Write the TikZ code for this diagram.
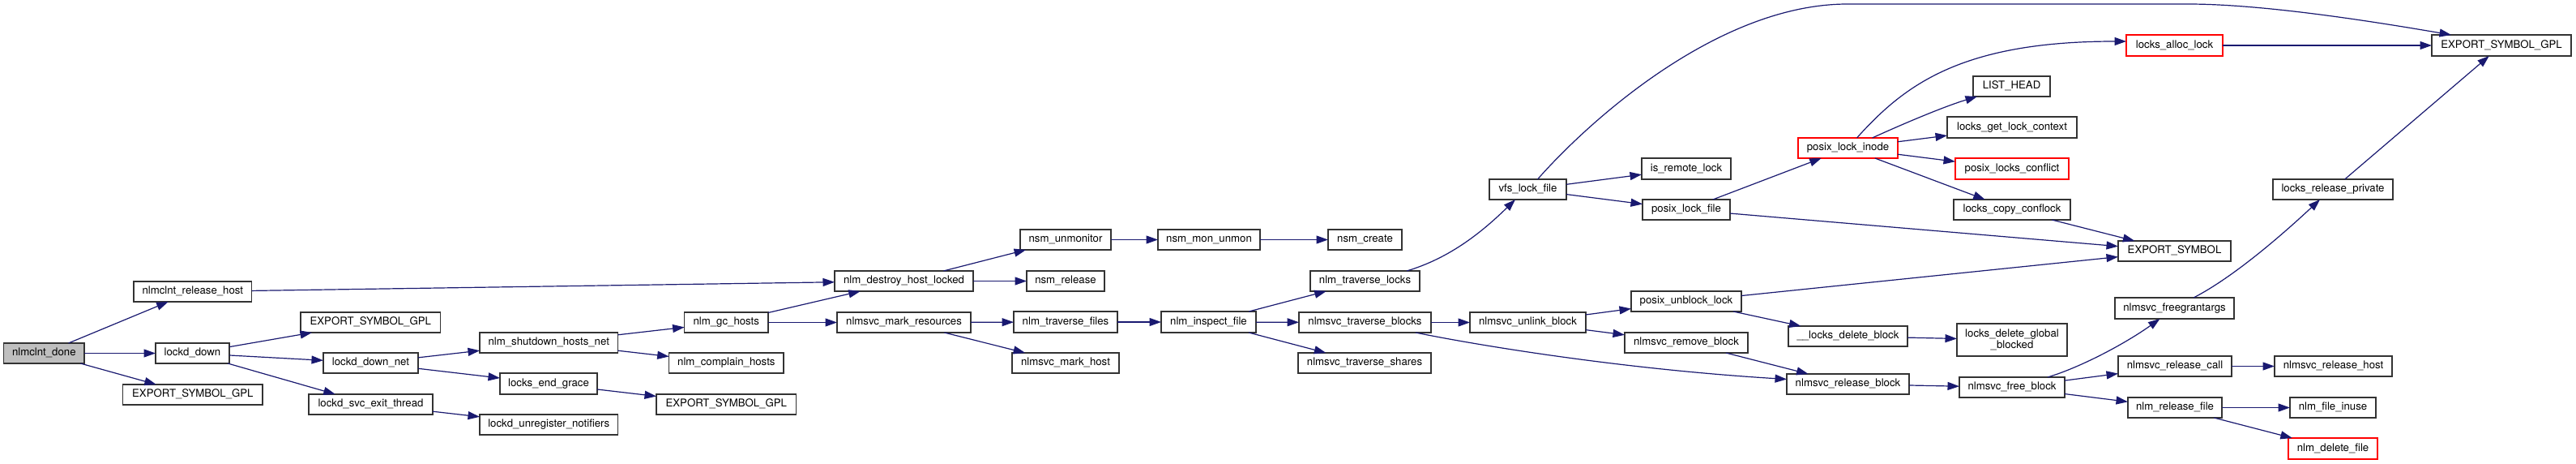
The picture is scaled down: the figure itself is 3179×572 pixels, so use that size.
\documentclass[tikz,border=0pt]{standalone}
\usepackage{fontspec}
\setmainfont{TeX Gyre Heros}
\usetikzlibrary{arrows.meta,calc}
\definecolor{edgec}{HTML}{191970}
\definecolor{bordc}{HTML}{333333}
\definecolor{rootc}{HTML}{BFBFBF}
\tikzset{
  box/.style={draw=bordc,line width=1.3pt,fill=white,inner sep=0pt,outer sep=0pt,
    font=\fontsize{13.2}{14}\selectfont},
  oneline/.style={text height=9.6pt,text depth=2.9pt},
  redbox/.style={draw=red},
  rootbox/.style={fill=rootc},
  edge/.style={draw=edgec,line width=1.2pt,-{Triangle[length=14.5pt,width=10pt]}}
}
\newcommand{\gnode}[7][oneline]{\node[box,#1,minimum width={(#4-#3)*1pt},minimum height={(#6-#5)*1pt}] (#2) at ({(#3+#4)/2},{(#5+#6)/2}) {#7};}
\begin{document}
\begin{tikzpicture}[x=1pt,y=-1pt]
\fill[white] (0,0) rectangle (3179,572);
\useasboundingbox (0,0) rectangle (3179,572);
% nodes
\gnode[oneline,rootbox]{done}{4.7}{104}{423}{448}{nlmclnt\_done}
\gnode{relhost}{165}{310.7}{347}{372}{nlmclnt\_release\_host}
\gnode{lockddown}{192}{283}{423}{448}{lockd\_down}
\gnode{esga}{151.7}{324}{474}{499}{EXPORT\_SYMBOL\_GPL}
\gnode{esgb}{371}{543.6}{385}{410}{EXPORT\_SYMBOL\_GPL}
\gnode{downnet}{399}{516}{435}{460}{lockd\_down\_net}
\gnode{svcexit}{381}{534}{486}{511}{lockd\_svc\_exit\_thread}
\gnode{destroy}{1030}{1201}{334}{359}{nlm\_destroy\_host\_locked}
\gnode{gchosts}{844.6}{948}{385}{410}{nlm\_gc\_hosts}
\gnode{markres}{1033}{1198}{385}{410}{nlmsvc\_mark\_resources}
\gnode{shutdown}{592}{762.5}{410}{435}{nlm\_shutdown\_hosts\_net}
\gnode{complain}{825.7}{967}{435}{460}{nlm\_complain\_hosts}
\gnode{endgrace}{617}{737}{460}{486}{locks\_end\_grace}
\gnode{esgc}{810}{982.5}{486}{511}{EXPORT\_SYMBOL\_GPL}
\gnode{unreg}{592}{762.5}{511}{536}{lockd\_unregister\_notifiers}
\gnode{unmonitor}{1259}{1371}{283}{308}{nsm\_unmonitor}
\gnode{nsmrel}{1267}{1363}{334}{359}{nsm\_release}
\gnode{travfiles}{1251}{1379}{384}{410}{nlm\_traverse\_files}
\gnode{markhost}{1249}{1381}{435}{460}{nlmsvc\_mark\_host}
\gnode{monunmon}{1429}{1555}{283}{308}{nsm\_mon\_unmon}
\gnode{inspect}{1433}{1550}{384}{410}{nlm\_inspect\_file}
\gnode{create}{1639}{1730}{283}{308}{nsm\_create}
\gnode{travlocks}{1617}{1752}{334}{359}{nlm\_traverse\_locks}
\gnode{travblocks}{1603}{1766}{385}{410}{nlmsvc\_traverse\_blocks}
\gnode{travshares}{1602}{1766}{435}{460}{nlmsvc\_traverse\_shares}
\gnode{vfs}{1838}{1933}{221}{246}{vfs\_lock\_file}
\gnode{isremote}{2026}{2136}{195}{221}{is\_remote\_lock}
\gnode{plf}{2027}{2135}{246}{271}{posix\_lock\_file}
\gnode{unblock}{2013}{2149}{359}{384}{posix\_unblock\_lock}
\gnode{unlink}{1814}{1957}{385}{410}{nlmsvc\_unlink\_block}
\gnode{remove}{2005}{2157}{410}{435}{nlmsvc\_remove\_block}
\gnode[oneline,redbox]{alloc}{2624}{2743}{43}{69}{locks\_alloc\_lock}
\gnode{listhead}{2435}{2530}{94}{119}{LIST\_HEAD}
\gnode{getctx}{2403}{2563}{144}{170}{locks\_get\_lock\_context}
\gnode[oneline,redbox]{pli}{2219}{2342}{170}{195}{posix\_lock\_inode}
\gnode[oneline,redbox]{conflict}{2413}{2553}{195}{221}{posix\_locks\_conflict}
\gnode{copy}{2411}{2555}{246}{271}{locks\_copy\_conflock}
\gnode{es}{2614}{2753}{297}{322}{EXPORT\_SYMBOL}
\gnode{ldb}{2207}{2354}{402}{427}{\_\_locks\_delete\_block}
\gnode[align=center]{ldgb}{2415}{2551}{399}{439}{locks\_delete\_global\\\_blocked}
\gnode{relblock}{2205}{2356}{461}{486}{nlmsvc\_release\_block}
\gnode{freeblock}{2418}{2548}{465}{490}{nlmsvc\_free\_block}
\gnode{freegrant}{2610}{2757}{367}{393}{nlmsvc\_freegrantargs}
\gnode{relcall}{2614}{2754}{439}{464}{nlmsvc\_release\_call}
\gnode{relfile}{2626}{2742}{490}{515}{nlm\_release\_file}
\gnode{esgtop}{3001}{3173}{43}{69}{EXPORT\_SYMBOL\_GPL}
\gnode{lrp}{2805}{2953}{221}{246}{locks\_release\_private}
\gnode{relhosttwo}{2807}{2952}{439}{464}{nlmsvc\_release\_host}
\gnode{inuse}{2826}{2932}{490}{515}{nlm\_file\_inuse}
\gnode[oneline,redbox]{delfile}{2824}{2934}{540}{566}{nlm\_delete\_file}
% straight edges
\foreach \a/\b in {done/relhost,done/lockddown,done/esga,relhost/destroy,
  lockddown/esgb,lockddown/downnet,lockddown/svcexit,downnet/shutdown,
  downnet/endgrace,svcexit/unreg,shutdown/gchosts,shutdown/complain,
  endgrace/esgc,gchosts/destroy,gchosts/markres,destroy/unmonitor,
  destroy/nsmrel,markres/travfiles,markres/markhost,unmonitor/monunmon,
  monunmon/create,travfiles/inspect,inspect/travlocks,inspect/travblocks,
  inspect/travshares,travblocks/unlink,vfs/isremote,vfs/plf,plf/pli,plf/es,
  unlink/unblock,unlink/remove,unblock/es,unblock/ldb,remove/relblock,
  pli/getctx,pli/conflict,pli/copy,copy/es,ldb/ldgb,relblock/freeblock,
  freeblock/relcall,freeblock/relfile,alloc/esgtop,lrp/esgtop,
  relcall/relhosttwo,relfile/inuse,relfile/delfile}
  {\draw[edge] (\a) -- (\b);}
% curved edges
\draw[edge] ($(travlocks.north east)+(-16,0)$) .. controls (1790,318) and (1830,285) .. ($(vfs.south)+(-15.5,0)$);
\draw[edge] ($(travblocks.south east)+(-19,0)$) .. controls (1820,425) and (2000,455) .. ($(relblock.west)+(0,-6)$);
\draw[edge] ($(vfs.north)+(12,0)$) .. controls (1960,150) and (2120,5) .. (2280,5) -- (2700,5) .. controls (2790,5) and (2920,25) .. ($(esgtop.north west)+(24,0)$);
\draw[edge] ($(pli.north)+(11,0)$) .. controls (2350,105) and (2420,51) .. ($(alloc.west)+(0,-5)$);
\draw[edge] ($(pli.north)+(30,0)$) .. controls (2350,152) and (2400,131) .. ($(listhead.south west)+(5,0)$);
\draw[edge] ($(freeblock.north east)+(-21,0)$) .. controls (2570,452) and (2625,422) .. ($(freegrant.south)+(-18,0)$);
\draw[edge] ($(freegrant.north)+(23.5,0)$) .. controls (2750,345) and (2805,300) .. ($(lrp.south)+(-16,0)$);
\end{tikzpicture}
\end{document}
